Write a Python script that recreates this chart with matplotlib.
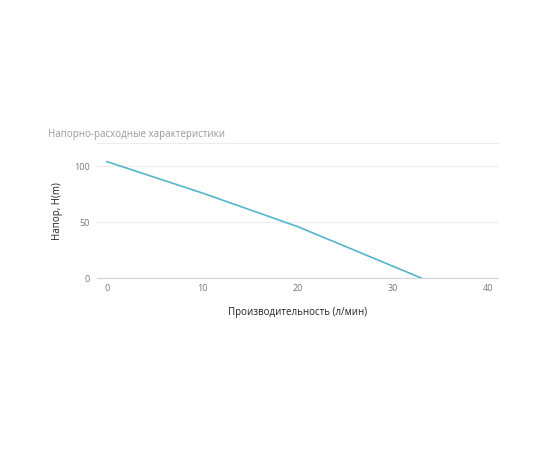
import matplotlib
matplotlib.use("Agg")
import matplotlib.pyplot as plt

# Напорно-расходная характеристика насоса
flow = [0, 10, 20, 33]          # л/мин
head = [104, 76, 46, 0]         # м

x_ticks = [0, 10, 20, 30, 40]
y_ticks = [0, 50, 100]

plt.rcParams['font.family'] = ['Open Sans', 'DejaVu Sans']

fig = plt.figure(figsize=(5.5, 4.5), dpi=100)
ax = fig.add_axes([0.176, 0.382, 0.729, 0.300])

ax.plot(flow, head, color='#55b5cb', linewidth=1.2, solid_capstyle='round')

ax.set_xlim(-1.05, 41)
ax.set_ylim(0, 120.5)
ax.set_xticks(x_ticks)
ax.set_yticks(y_ticks)

ax.grid(axis='y', color='#ececec', linewidth=0.8)
ax.set_axisbelow(True)
for side in ['left', 'right']:
    ax.spines[side].set_visible(False)
ax.spines['top'].set_color('#ececec')
ax.spines['top'].set_linewidth(0.8)
ax.spines['bottom'].set_color('#cfd4dc')
ax.spines['bottom'].set_linewidth(0.8)

ax.tick_params(axis='both', length=0, labelsize=6.5, labelcolor='#777777')
ax.tick_params(axis='x', pad=4)
ax.tick_params(axis='y', pad=5)

ax.set_xlabel('Производительность (л/мин)', fontsize=7, color='#222222', labelpad=10)
ax.set_ylabel('Напор, H(m)', fontsize=7, color='#222222', labelpad=8)

fig.text(48 / 550, 1 - 135 / 450, 'Напорно-расходные характеристики',
         fontsize=7, color='#999999', va='center', ha='left')

fig.savefig('out.png', dpi=100, facecolor='white')
